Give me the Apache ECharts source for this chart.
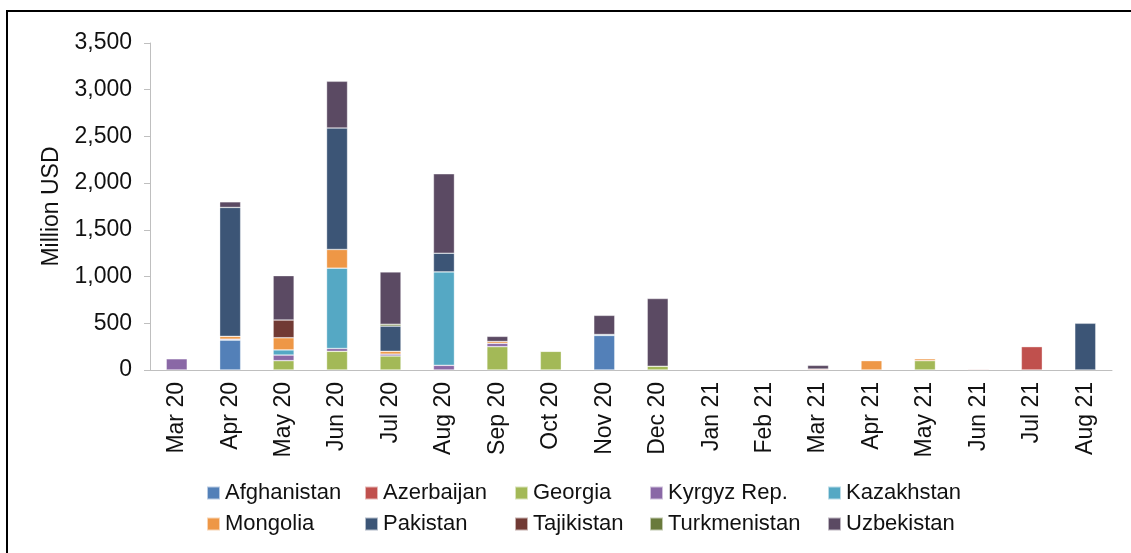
<!DOCTYPE html>
<html>
<head>
<meta charset="utf-8">
<script src="https://cdn.jsdelivr.net/npm/echarts@6/dist/echarts.min.js"></script>
<style>
  html, body { margin: 0; padding: 0; background: #fff; }
  #chart { width: 1131px; height: 553px; }
</style>
</head>
<body>
<div id="chart"></div>
<script>
// ----------------------
// Data (million USD)
// ----------------------
const months = ['Mar 20', 'Apr 20', 'May 20', 'Jun 20', 'Jul 20', 'Aug 20', 'Sep 20', 'Oct 20', 'Nov 20',
  'Dec 20', 'Jan 21', 'Feb 21', 'Mar 21', 'Apr 21', 'May 21', 'Jun 21', 'Jul 21', 'Aug 21'];
const yTicks = [0, 500, 1000, 1500, 2000, 2500, 3000, 3500];

const afghanistan = [0, 320, 0, 0, 0, 0, 0, 0, 370, 0, 0, 0, 0, 0, 0, 0, 0, 0];
const azerbaijan = [0, 0, 0, 0, 0, 0, 0, 0, 0, 0, 0, 0, 10, 0, 0, 8, 250, 0];
const georgia = [0, 0, 100, 200, 150, 0, 250, 200, 0, 40, 0, 0, 0, 0, 100, 0, 0, 0];
const kyrgyz = [120, 10, 60, 30, 20, 50, 35, 0, 0, 0, 0, 0, 0, 0, 0, 0, 0, 0];
const kazakhstan = [0, 0, 55, 860, 0, 1000, 0, 0, 10, 0, 0, 0, 0, 0, 0, 0, 0, 0];
const mongolia = [0, 30, 130, 200, 30, 0, 20, 5, 0, 0, 0, 0, 0, 100, 20, 0, 0, 0];
const pakistan = [0, 1380, 0, 1300, 270, 200, 0, 0, 0, 0, 0, 0, 0, 0, 0, 0, 0, 500];
const tajikistan = [0, 0, 190, 0, 0, 0, 0, 0, 0, 0, 0, 0, 0, 0, 0, 0, 0, 0];
const turkmenistan = [0, 0, 0, 0, 20, 0, 0, 0, 0, 0, 0, 0, 0, 0, 0, 0, 0, 0];
const uzbekistan = [0, 60, 475, 500, 560, 850, 55, 0, 205, 725, 0, 0, 40, 0, 0, 0, 0, 0];

const countries = [
  { name: 'Afghanistan', data: afghanistan, color: '#5380B8' },
  { name: 'Azerbaijan', data: azerbaijan, color: '#C0504D' },
  { name: 'Georgia', data: georgia, color: '#A3B957' },
  { name: 'Kyrgyz Rep.', data: kyrgyz, color: '#8A68A6' },
  { name: 'Kazakhstan', data: kazakhstan, color: '#55A8C4' },
  { name: 'Mongolia', data: mongolia, color: '#EE9746' },
  { name: 'Pakistan', data: pakistan, color: '#3C5576' },
  { name: 'Tajikistan', data: tajikistan, color: '#713A34' },
  { name: 'Turkmenistan', data: turkmenistan, color: '#697A3C' },
  { name: 'Uzbekistan', data: uzbekistan, color: '#5B4A63' }
];

const FONT = 'Liberation Sans, Arial, sans-serif';
const TEXT = '#111';

// legend laid out in columns like the original
const legendCols = [206, 364, 514, 649, 827];

function initChart() {
  const chart = echarts.init(document.getElementById('chart'));
  chart.setOption({
    animation: false,
    textStyle: { fontFamily: FONT, color: TEXT },
    grid: { left: 150, right: 19, top: 43, bottom: 183 },
    legend: legendCols.map((x, i) => ({
      orient: 'vertical',
      left: x,
      top: 482,
      padding: 0,
      icon: 'rect',
      itemWidth: 13,
      itemHeight: 13,
      itemGap: 9,
      selectedMode: false,
      textStyle: { fontSize: 22, lineHeight: 22, color: TEXT, fontFamily: FONT },
      data: [countries[i].name, countries[i + 5].name]
    })),
    xAxis: {
      type: 'category',
      data: months,
      axisLine: { lineStyle: { color: '#BFBFBF', width: 1 } },
      axisTick: { show: false },
      axisLabel: { rotate: 90, fontSize: 23, color: TEXT, margin: 12, interval: 0 }
    },
    yAxis: {
      type: 'value',
      min: 0,
      max: yTicks[yTicks.length - 1],
      interval: 500,
      name: 'Million USD',
      nameLocation: 'middle',
      nameGap: 86,
      nameTextStyle: { fontSize: 23, color: TEXT },
      axisLine: { show: true, lineStyle: { color: '#BFBFBF' } },
      axisTick: { show: true, length: 6, lineStyle: { color: '#BFBFBF' } },
      splitLine: { show: false },
      axisLabel: {
        fontSize: 23, color: TEXT, margin: 18,
        formatter: v => v.toLocaleString('en-US')
      }
    },
    series: countries.map(c => ({
      name: c.name,
      type: 'bar',
      stack: 'total',
      barWidth: 21,
      itemStyle: { color: c.color, borderColor: 'rgba(255,255,255,0.6)', borderWidth: 0.6 },
      data: c.data.map(v => (v === 0 ? null : v))
    })),
    graphic: [
      { type: 'line', shape: { x1: 7, y1: 11, x2: 1131, y2: 11 }, style: { stroke: '#000', lineWidth: 2 } },
      { type: 'line', shape: { x1: 7, y1: 10, x2: 7, y2: 553 }, style: { stroke: '#000', lineWidth: 2 } }
    ]
  });
  return chart;
}

const chart = initChart();
window.addEventListener('resize', () => chart.resize());
</script>
</body>
</html>
